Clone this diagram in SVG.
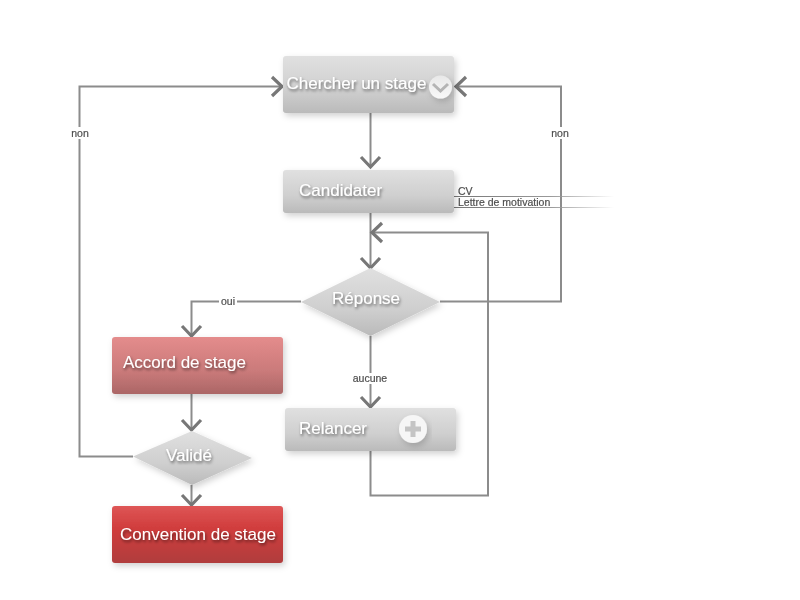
<svg xmlns="http://www.w3.org/2000/svg" width="800" height="600" viewBox="0 0 800 600">
<style>
.t{font-family:"Liberation Sans",Arial,sans-serif;font-size:17px;fill:#fff;filter:url(#ts)}
.l{font-family:"Liberation Sans",Arial,sans-serif;font-size:10.500px;fill:#444;stroke:#444;stroke-width:.2;text-anchor:middle;opacity:.95}
.d{font-family:"Liberation Sans",Arial,sans-serif;font-size:10.500px;fill:#444;stroke:#444;stroke-width:.2;opacity:.95}
.c{fill:none;stroke:#8c8c8c;stroke-width:2}
.a{fill:none;stroke:#777;stroke-width:3.200}
.g{fill:url(#grey);filter:url(#ns)}
</style>
<defs>
<linearGradient id="grey" x1="0" y1="0" x2="0" y2="1"><stop offset="0" stop-color="#e0e0e0"/><stop offset=".6" stop-color="#cfcfcf"/><stop offset="1" stop-color="#bababa"/></linearGradient>
<linearGradient id="pink" x1="0" y1="0" x2="0" y2="1"><stop offset="0" stop-color="#e48c8c"/><stop offset=".6" stop-color="#ca7a7a"/><stop offset="1" stop-color="#ab6666"/></linearGradient>
<linearGradient id="red" x1="0" y1="0" x2="0" y2="1"><stop offset="0" stop-color="#de5656"/><stop offset=".4" stop-color="#d03c3c"/><stop offset="1" stop-color="#b03e3e"/></linearGradient>
<linearGradient id="f1" x1="0" y1="0" x2="1" y2="0"><stop offset="0" stop-color="#777"/><stop offset=".6" stop-color="#999"/><stop offset="1" stop-color="#999" stop-opacity="0"/></linearGradient>
<linearGradient id="circ" x1="0" y1="0" x2="0" y2="1"><stop offset="0" stop-color="#e8e8e8"/><stop offset="1" stop-color="#f8f8f8"/></linearGradient>
<filter id="ns" x="-15%" y="-25%" width="130%" height="160%"><feDropShadow dx="2" dy="3" stdDeviation="3" flood-color="#000" flood-opacity=".18"/></filter>
<filter id="ts" x="-15%" y="-40%" width="130%" height="200%"><feDropShadow dx="1" dy="2" stdDeviation="1.600" flood-color="#000" flood-opacity=".55"/></filter>
</defs>
<rect width="800" height="600" fill="#fff"/>
<g id="connectors">
<path class="c" d="M370.500 113V167"/>
<path class="a" d="M361 157L370.500 167L380 157"/>
<path class="c" d="M370.500 213V267"/>
<path class="a" d="M361 258L370.500 268L380 258"/>
<path class="c" d="M370.500 336V406"/>
<path class="a" d="M361 397L370.500 407L380 397"/>
<path class="c" d="M370.500 451V495.500H488V232.500H372"/>
<path class="a" d="M382 223L372 232.500L382 242"/>
<path class="c" d="M440 301.500H561V86.500H456"/>
<path class="a" d="M466 77L456 86.500L466 96"/>
<path class="c" d="M301 301.500H191.500V335"/>
<path class="a" d="M182 326L191.500 336L201 326"/>
<path class="c" d="M191.500 394V430"/>
<path class="a" d="M182 420L191.500 430L201 420"/>
<path class="c" d="M191.500 485V505"/>
<path class="a" d="M182 495L191.500 505L201 495"/>
<path class="c" d="M133 456.500H79.500V86.500H282"/>
<path class="a" d="M272 77L282 86.500L272 96"/>
<rect x="454" y="196" width="160" height="1" fill="url(#f1)"/>
<rect x="454" y="207" width="160" height="1" fill="url(#f1)"/>
<rect x="70" y="127" width="20" height="12" fill="#fff"/>
<rect x="550" y="127" width="20" height="12" fill="#fff"/>
<rect x="219" y="296" width="18" height="11" fill="#fff"/>
<rect x="352" y="373" width="36" height="11" fill="#fff"/>
<text class="l" x="80" y="136.500">non</text>
<text class="l" x="560" y="136.500">non</text>
<text class="l" x="228" y="304.500">oui</text>
<text class="l" x="370" y="381.500">aucune</text>
<text class="d" x="458" y="195">CV</text>
<text class="d" x="458" y="206">Lettre de motivation</text>
</g>
<g id="n-chercher">
<rect class="g" x="283" y="56" width="171" height="57" rx="3"/>
<text class="t" x="286.500" y="89">Chercher un stage</text>
<circle cx="440.500" cy="87" r="11.500" fill="url(#circ)" filter="url(#ns)"/>
<path d="M433 84L440.500 91L448 84" fill="none" stroke="#b4b4b4" stroke-width="3"/>
</g>
<g id="n-candidater">
<rect class="g" x="283" y="170" width="171" height="43" rx="3"/>
<text class="t" x="299" y="196">Candidater</text>
</g>
<g id="n-reponse">
<path class="g" d="M370.500 268L440 302L370.500 336L301 302Z"/>
<text class="t" x="332" y="304">Réponse</text>
</g>
<g id="n-accord">
<rect x="112" y="337" width="171" height="57" rx="3" fill="url(#pink)" filter="url(#ns)"/>
<text class="t" x="123" y="368">Accord de stage</text>
</g>
<g id="n-relancer">
<rect class="g" x="285" y="408" width="171" height="43" rx="3"/>
<text class="t" x="299" y="434">Relancer</text>
<circle cx="413" cy="429" r="14" fill="#f6f6f6" filter="url(#ns)"/>
<path d="M413 421V437M405 429H421" fill="none" stroke="#c4c4c4" stroke-width="5"/>
</g>
<g id="n-valide">
<path class="g" d="M192 431L252 458L192 485L133 456.500Z"/>
<text class="t" x="166" y="461">Validé</text>
</g>
<g id="n-convention">
<rect x="112" y="506" width="171" height="57" rx="3" fill="url(#red)" filter="url(#ns)"/>
<text class="t" x="120" y="540">Convention de stage</text>
</g>
</svg>
